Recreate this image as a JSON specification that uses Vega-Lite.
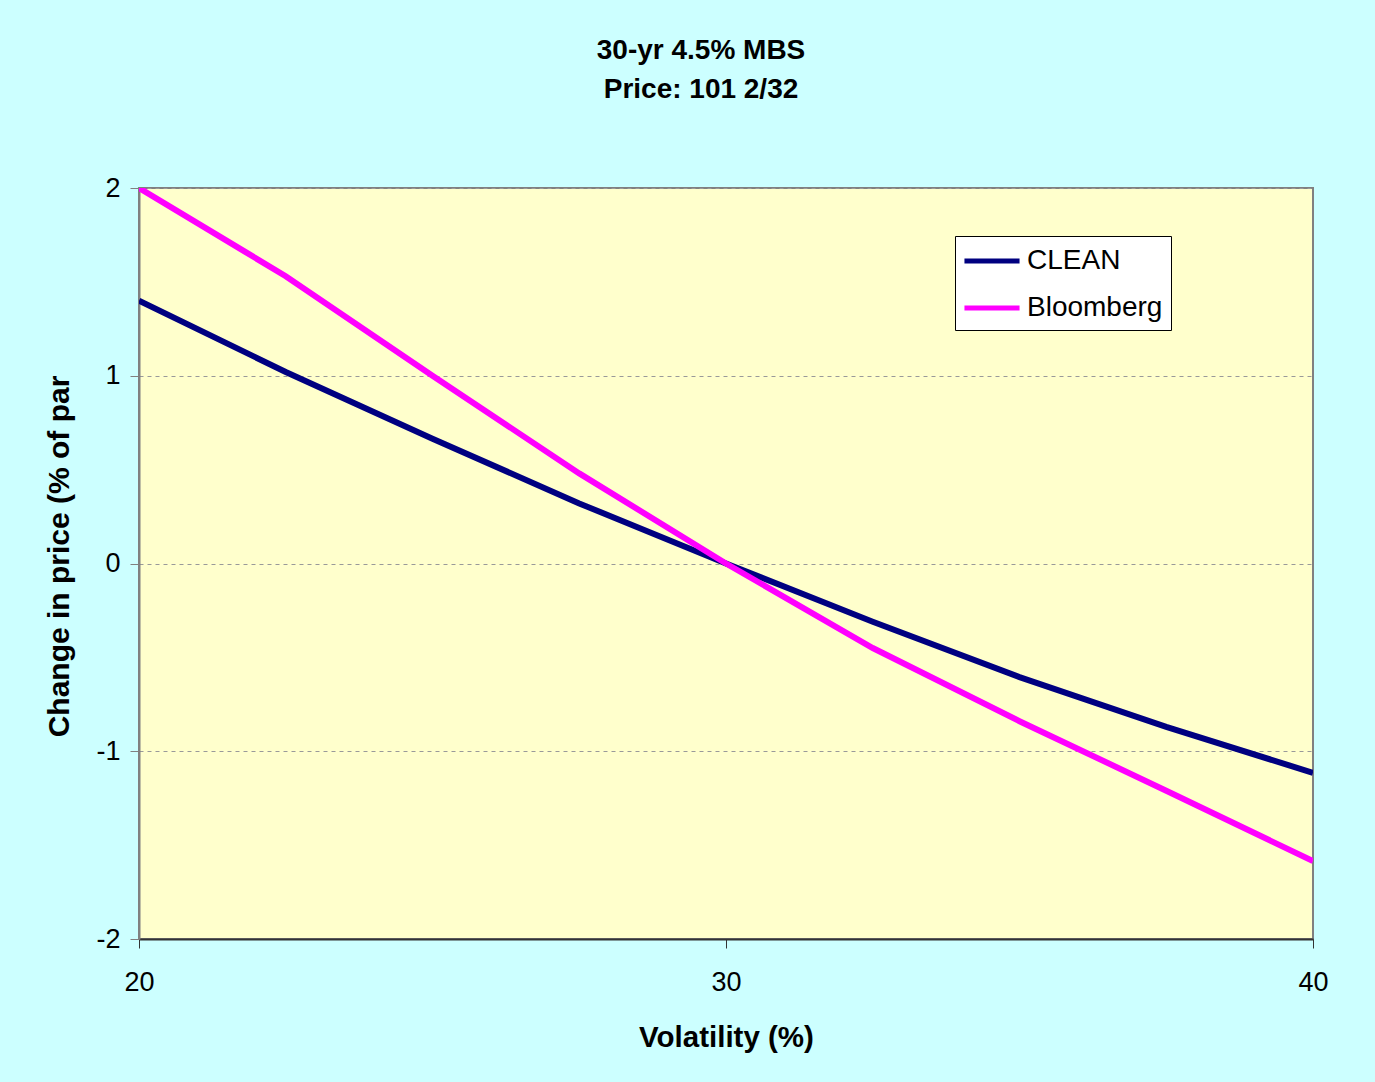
{
  "$schema": "https://vega.github.io/schema/vega-lite/v6.json",
  "autosize": "none",
  "width": 1174,
  "height": 751,
  "padding": {"left": 139, "top": 188, "right": 62, "bottom": 143},
  "background": "#CCFFFF",
  "title": {
    "text": ["30-yr 4.5% MBS", "Price: 101 2/32"],
    "font": "Liberation Sans",
    "fontSize": 28,
    "fontWeight": "bold",
    "lineHeight": 39,
    "color": "#000000",
    "anchor": "middle",
    "dx": -25,
    "offset": 70
  },
  "config": {
    "view": {"fill": "#FFFFCC", "stroke": "#808080", "strokeWidth": 2},
    "font": "Liberation Sans"
  },
  "data": {
    "values": [
      {"vol": 20, "chg": 1.40, "series": "CLEAN"},
      {"vol": 22.5, "chg": 1.02, "series": "CLEAN"},
      {"vol": 25, "chg": 0.665, "series": "CLEAN"},
      {"vol": 27.5, "chg": 0.32, "series": "CLEAN"},
      {"vol": 30, "chg": 0, "series": "CLEAN"},
      {"vol": 32.5, "chg": -0.31, "series": "CLEAN"},
      {"vol": 35, "chg": -0.605, "series": "CLEAN"},
      {"vol": 37.5, "chg": -0.87, "series": "CLEAN"},
      {"vol": 40, "chg": -1.115, "series": "CLEAN"},
      {"vol": 20, "chg": 2.0, "series": "Bloomberg"},
      {"vol": 22.5, "chg": 1.53, "series": "Bloomberg"},
      {"vol": 25, "chg": 1.0, "series": "Bloomberg"},
      {"vol": 27.5, "chg": 0.48, "series": "Bloomberg"},
      {"vol": 30, "chg": 0, "series": "Bloomberg"},
      {"vol": 32.5, "chg": -0.45, "series": "Bloomberg"},
      {"vol": 35, "chg": -0.84, "series": "Bloomberg"},
      {"vol": 37.5, "chg": -1.21, "series": "Bloomberg"},
      {"vol": 40, "chg": -1.585, "series": "Bloomberg"}
    ]
  },
  "mark": {"type": "line", "strokeWidth": 6, "clip": true},
  "encoding": {
    "x": {
      "field": "vol",
      "type": "quantitative",
      "scale": {"domain": [20, 40], "nice": false, "zero": false},
      "axis": {
        "values": [20, 30, 40],
        "labelExpr": "'' + datum.value",
        "labelFlush": false,
        "title": "Volatility (%)",
        "titleFontSize": 29.5,
        "titleFontWeight": "bold",
        "titleColor": "#000000",
        "titlePadding": 28,
        "labelFontSize": 27,
        "labelColor": "#000000",
        "labelPadding": 21,
        "tickSize": 9,
        "tickColor": "#333333",
        "domainColor": "#333333",
        "domainWidth": 2,
        "grid": false
      }
    },
    "y": {
      "field": "chg",
      "type": "quantitative",
      "scale": {"domain": [-2, 2], "nice": false},
      "axis": {
        "values": [-2, -1, 0, 1, 2],
        "labelExpr": "'' + datum.value",
        "title": "Change in price (% of par",
        "titleFontSize": 30,
        "titleFontWeight": "bold",
        "titleColor": "#000000",
        "titlePadding": 21,
        "titleY": 368,
        "labelFontSize": 27,
        "labelColor": "#000000",
        "labelPadding": 10,
        "tickSize": 9,
        "tickColor": "#808080",
        "domainColor": "#808080",
        "domainWidth": 2,
        "grid": true,
        "gridColor": "#999999",
        "gridDash": [4, 4],
        "gridWidth": 1
      }
    },
    "color": {
      "field": "series",
      "type": "nominal",
      "scale": {"domain": ["CLEAN", "Bloomberg"], "range": ["#000080", "#FF00FF"]},
      "legend": {
        "title": null,
        "orient": "none",
        "legendX": 816,
        "legendY": 48,
        "fillColor": "#FFFFFF",
        "strokeColor": "#000000",
        "padding": 8,
        "symbolType": "M-1.9,0H1.9",
        "symbolSize": 841,
        "symbolStrokeWidth": 5,
        "symbolOffset": 12,
        "labelFontSize": 28,
        "labelColor": "#000000",
        "labelOffset": 18,
        "rowPadding": 16
      }
    }
  }
}
